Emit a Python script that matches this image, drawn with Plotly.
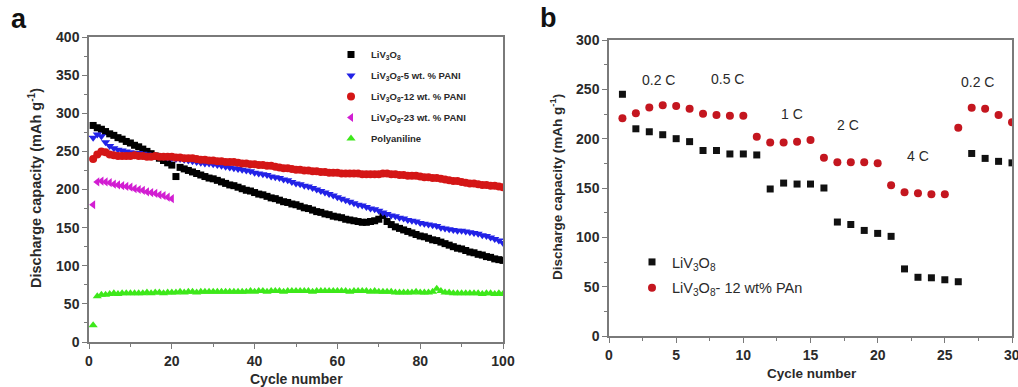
import plotly.graph_objects as go

# ---------------- Panel a data ----------------
cycles_a = list(range(1, 101))
liv3o8_a = [284, 281, 279, 276, 273, 271, 268, 266, 263, 261,
            258, 256, 253, 250, 247, 244, 241, 238, 235, 232,
            217, 229, 227, 225, 223, 221, 219, 217, 215, 214,
            212, 210, 208, 206, 205, 203, 201, 199, 198, 196,
            194, 193, 191, 189, 188, 186, 184, 183, 181, 180,
            178, 176, 175, 173, 171, 170, 168, 167, 165, 164,
            163, 161, 160, 159, 158, 157, 157, 158, 159, 161,
            166, 158, 154, 151, 149, 147, 145, 143, 141, 139,
            138, 136, 134, 133, 131, 129, 127, 125, 123, 122,
            120, 118, 117, 115, 114, 112, 111, 109, 108, 107]
pan5_a = [268, 272, 270, 262, 257, 254, 252, 251, 250, 249,
          248, 248, 247, 246, 245, 245, 244, 243, 242, 241,
          240, 240, 239, 238, 237, 236, 235, 234, 234, 233,
          232, 231, 230, 229, 228, 227, 226, 225, 224, 222,
          221, 220, 219, 217, 216, 215, 213, 212, 210, 208,
          207, 205, 204, 202, 200, 198, 196, 194, 192, 190,
          188, 186, 184, 182, 180, 179, 177, 175, 174, 172,
          170, 168, 166, 165, 163, 162, 160, 159, 158, 156,
          155, 154, 153, 152, 150, 149, 148, 147, 146, 146,
          145, 144, 143, 142, 140, 139, 137, 135, 133, 130]
pan12_a = [240, 246, 250, 249, 246, 245, 244, 244, 244, 244,
           245, 244, 244, 243, 243, 244, 243, 243, 243, 243,
           242, 242, 241, 241, 241, 240, 239, 239, 238, 238,
           237, 237, 236, 236, 236, 235, 234, 234, 233, 233,
           232, 232, 231, 231, 230, 229, 228, 228, 227, 226,
           226, 225, 225, 224, 224, 223, 223, 222, 222, 222,
           221, 221, 221, 221, 221, 220, 220, 220, 220, 220,
           221, 221, 220, 220, 219, 219, 218, 218, 218, 217,
           216, 216, 215, 215, 214, 213, 212, 211, 211, 210,
           209, 208, 208, 207, 206, 206, 205, 205, 204, 203]
cycles_23 = list(range(1, 21))
pan23_a = [180, 210, 211, 210, 209, 207, 206, 205, 204, 203,
           201, 200, 199, 197, 196, 195, 193, 192, 190, 188]
pani_a = [22, 60, 62, 62, 63, 64, 63, 64, 64, 64,
          64, 64, 64, 65, 64, 65, 65, 64, 65, 65,
          65, 66, 65, 66, 66, 65, 66, 66, 66, 66,
          66, 66, 66, 66, 66, 66, 66, 66, 67, 66,
          67, 67, 66, 67, 67, 67, 66, 67, 67, 67,
          67, 67, 67, 66, 67, 67, 67, 67, 67, 67,
          67, 67, 66, 67, 67, 67, 67, 66, 67, 66,
          66, 66, 66, 65, 65, 65, 65, 65, 66, 65,
          65, 65, 66, 70, 67, 65, 65, 64, 64, 64,
          64, 64, 64, 64, 63, 64, 64, 63, 64, 63]

# ---------------- Panel b data ----------------
cycles_b = list(range(1, 31))
liv3o8_b = [245, 210, 207, 204, 200, 197, 188, 188, 184.5, 184.5,
            183.5, 149, 155, 154, 154, 150, 115.5, 113, 107, 104,
            101, 68, 59.5, 59, 57, 55, 185, 180, 177, 175.5]
pan12_b = [220.6, 225.7, 231.7, 233.8, 233, 230.4, 225.3, 224, 223.3, 223.3,
           202, 196, 196, 197, 198.6, 180.7, 176, 176, 176, 175,
           152.7, 145.6, 144.6, 143.6, 143.6, 211, 231.4, 230.4, 224, 216.6]
rate_labels = ["0.2 C", "0.5 C", "1 C", "2 C", "4 C", "0.2 C"]
rate_x = [3.7, 8.8, 13.6, 17.8, 23.0, 27.4]
rate_y = [259, 260, 225, 214, 182, 257]

W, H = 1018, 387
FONT = "Liberation Sans"
AXC = "#7a7a7a"
TXT = "#2a2a2a"

fig = go.Figure()
ms = 7
fig.add_trace(go.Scatter(x=cycles_a, y=liv3o8_a, mode="markers", name="LiV<sub>3</sub>O<sub>8</sub>",
                         marker=dict(symbol="square", size=ms, color="#000000"),
                         legend="legend", legendgroup="a1"))
fig.add_trace(go.Scatter(x=cycles_a, y=pan5_a, mode="markers", name="LiV<sub>3</sub>O<sub>8</sub>-5 wt. % PANI",
                         marker=dict(symbol="triangle-down", size=ms + 1, color="#2222e6"),
                         legend="legend", legendgroup="a2"))
fig.add_trace(go.Scatter(x=cycles_a, y=pan12_a, mode="markers", name="LiV<sub>3</sub>O<sub>8</sub>-12 wt. % PANI",
                         marker=dict(symbol="circle", size=ms + 1, color="#d41616"),
                         legend="legend", legendgroup="a3"))
fig.add_trace(go.Scatter(x=cycles_23, y=pan23_a, mode="markers", name="LiV<sub>3</sub>O<sub>8</sub>-23 wt. % PANI",
                         marker=dict(symbol="triangle-left", size=ms + 1, color="#d21ed2"),
                         legend="legend", legendgroup="a4"))
fig.add_trace(go.Scatter(x=cycles_a, y=pani_a, mode="markers", name="Polyaniline",
                         marker=dict(symbol="triangle-up", size=ms + 1, color="#3de81a"),
                         legend="legend", legendgroup="a5"))

fig.add_trace(go.Scatter(x=cycles_b, y=liv3o8_b, mode="markers", name="LiV<sub>3</sub>O<sub>8</sub>",
                         marker=dict(symbol="square", size=7, color="#111111"),
                         xaxis="x2", yaxis="y2", legend="legend2", legendgroup="b1"))
fig.add_trace(go.Scatter(x=cycles_b, y=pan12_b, mode="markers", name="LiV<sub>3</sub>O<sub>8</sub>- 12 wt% PAn",
                         marker=dict(symbol="circle", size=8, color="#c4161f"),
                         xaxis="x2", yaxis="y2", legend="legend2", legendgroup="b2"))

def px_x(p):
    return p / W

def px_y(p):
    return 1 - p / H

tickfont = dict(family=FONT, size=14, color=TXT, weight="bold")
common = dict(showline=True, linecolor=AXC, linewidth=1.5, mirror=True, ticks="outside",
              ticklen=5, tickwidth=1.3, tickcolor=AXC, showgrid=False, zeroline=False,
              tickfont=tickfont, automargin=False)

fig.update_layout(
    width=W, height=H, margin=dict(l=0, r=0, t=0, b=0, pad=0, autoexpand=False),
    paper_bgcolor="white", plot_bgcolor="white",
    xaxis=dict(domain=[px_x(89), px_x(503)], range=[0, 100], dtick=20, anchor="y",
               minor=dict(dtick=10, ticklen=3, tickcolor=AXC, ticks="outside"), **common),
    yaxis=dict(domain=[px_y(342), px_y(37)], range=[0, 400], dtick=50, anchor="x",
               minor=dict(dtick=25, ticklen=3, tickcolor=AXC, ticks="outside"), **common),
    xaxis2=dict(domain=[px_x(609), px_x(1012)], range=[0, 30], dtick=5, anchor="y2",
                minor=dict(dtick=2.5, ticklen=3, tickcolor=AXC, ticks="outside"), **common),
    yaxis2=dict(domain=[px_y(336), px_y(40)], range=[0, 300], dtick=50, anchor="x2",
                minor=dict(dtick=25, ticklen=3, tickcolor=AXC, ticks="outside"), **common),
    legend=dict(x=px_x(331), y=px_y(40), xanchor="left", yanchor="top",
                bgcolor="rgba(0,0,0,0)", font=dict(family=FONT, size=9.5, color=TXT, weight="bold"),
                itemwidth=30, tracegroupgap=2),
    legend2=dict(x=px_x(632), y=px_y(246), xanchor="left", yanchor="top",
                 bgcolor="rgba(0,0,0,0)", font=dict(family=FONT, size=14.5, color=TXT),
                 itemwidth=30, tracegroupgap=4),
    showlegend=True,
)

ann = []
def add_text(text, x, y, size, xref="paper", yref="paper", angle=0, color=TXT):
    ann.append(dict(text=text, x=x, y=y, xref=xref, yref=yref, showarrow=False,
                    xanchor="center", yanchor="middle", textangle=angle,
                    font=dict(family=FONT, size=size, color=color)))

# panel labels
add_text("<b>a</b>", px_x(19), px_y(19), 27, color="#111")
add_text("<b>b</b>", px_x(548), px_y(18), 27, color="#111")
# axis titles
add_text("<b>Cycle number</b>", px_x(296), px_y(379), 14)
add_text("<b>Cycle number</b>", px_x(812), px_y(373), 13.5)
add_text("<b>Discharge capacity (mAh g<sup>-1</sup>)</b>", px_x(35), px_y(188), 14.5, angle=-90)
add_text("<b>Discharge capacity (mAh g<sup>-1</sup>)</b>", px_x(556), px_y(187), 13.5, angle=-90)
# last x tick label of panel b, partly cut by the figure edge as in the original
ann.append(dict(text="<b>30</b>", x=30, y=px_y(355), xref="x2", yref="paper", showarrow=False,
                xanchor="center", yanchor="middle",
                font=dict(family=FONT, size=14, color=TXT)))
# rate labels
for t, xv, yv in zip(rate_labels, rate_x, rate_y):
    add_text(t, xv, yv, 14, xref="x2", yref="y2")
fig.update_layout(annotations=ann)

fig.write_html("out.html", config={"displayModeBar": False},
               post_script="document.body.style.margin='0';document.body.style.overflow='hidden';")
